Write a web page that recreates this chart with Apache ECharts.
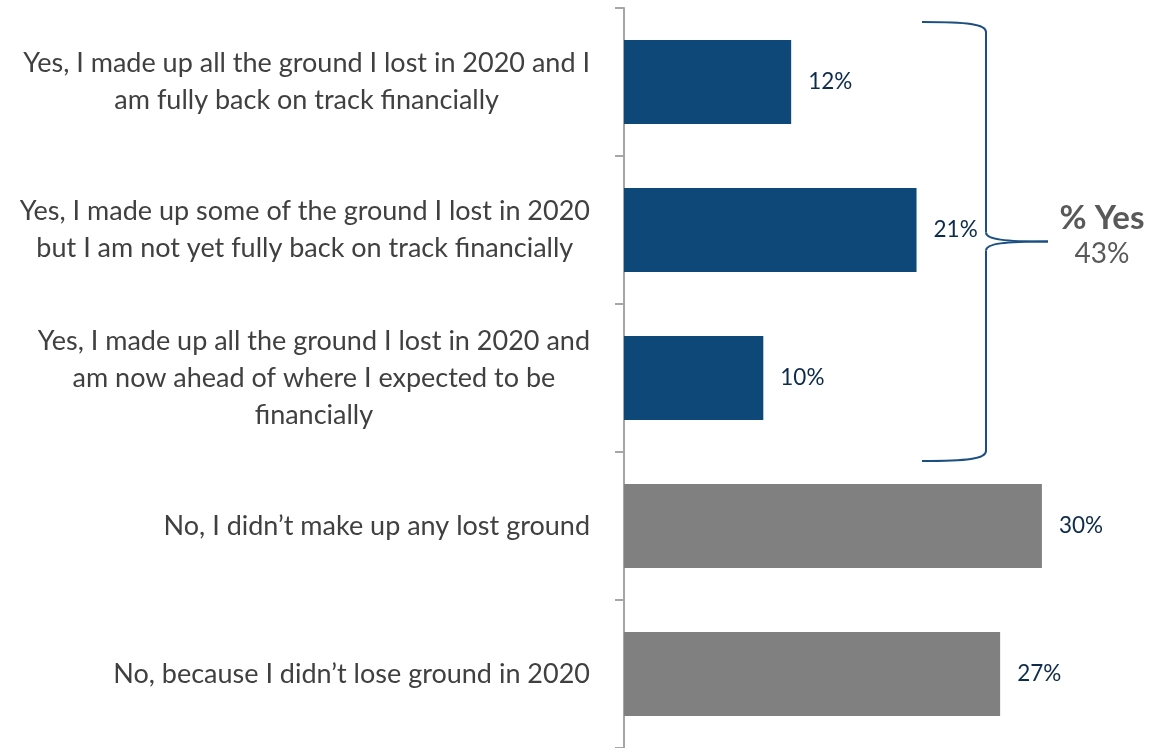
<!DOCTYPE html>
<html>
<head>
<meta charset="utf-8">
<script src="https://cdn.jsdelivr.net/npm/echarts@6/dist/echarts.min.js"></script>
<style>
  html, body { margin: 0; padding: 0; background: #ffffff; }
  #chart { width: 1149px; height: 748px; }
</style>
</head>
<body>
<div id="chart"></div>
<script>
// Survey answers, top to bottom (lines as printed next to each bar)
const categories = [
  ['Yes, I made up all the ground I lost in 2020 and I', 'am fully back on track financially'],
  ['Yes, I made up some of the ground I lost in 2020', 'but I am not yet fully back on track financially'],
  ['Yes, I made up all the ground I lost in 2020 and', 'am now ahead of where I expected to be', 'financially'],
  ['No, I didn\u2019t make up any lost ground'],
  ['No, because I didn\u2019t lose ground in 2020']
];
// Share of respondents, in percent
const values = [12, 21, 10, 30, 27];
// Which answers count as a "yes"
const isYes = [true, true, true, false, false];
// Bracket summary text
const yesTitle = '% Yes';
const yesTotal = '43%';

const BLUE = '#0E4878';
const GREY = '#808080';
const FONT = 'Lato, "Open Sans", sans-serif';

const chart = echarts.init(document.getElementById('chart'));

const labelNames = categories.map(lines => lines.join('\n'));

chart.setOption({
  animation: false,
  backgroundColor: '#ffffff',
  grid: { left: 624, right: 23.5, top: 8, bottom: 0, containLabel: false },
  xAxis: {
    type: 'value',
    min: 0,
    max: 36,
    show: false
  },
  yAxis: {
    type: 'category',
    inverse: true,
    data: labelNames,
    axisLine: { show: true, lineStyle: { color: '#A6A6A6', width: 2 } },
    axisTick: { show: true, length: 9, lineStyle: { color: '#A6A6A6', width: 2 } },
    axisLabel: {
      margin: 34,
      align: 'right',
      fontFamily: FONT,
      formatter: function (val) {
        return val.split('\n').map(l => '{c|' + l + '}').join('\n');
      },
      rich: {
        c: {
          align: 'center',
          fontFamily: FONT,
          fontSize: 27,
          lineHeight: 37,
          color: '#404040'
        }
      }
    },
    splitLine: { show: false }
  },
  series: [{
    type: 'bar',
    barWidth: 84,
    data: values.map((v, i) => ({
      value: v,
      itemStyle: { color: isYes[i] ? BLUE : GREY }
    })),
    label: {
      show: true,
      position: 'right',
      distance: 17,
      formatter: '{c}%',
      fontFamily: FONT,
      fontSize: 22.5,
      color: '#0D2B4A'
    }
  }]
});

// Curly bracket grouping the "yes" answers, placed from the category scale
function drawBracket() {
  const yesIdx = isYes.map((y, i) => (y ? i : -1)).filter(i => i >= 0);
  const first = yesIdx[0], last = yesIdx[yesIdx.length - 1];
  const yFirst = chart.convertToPixel({ yAxisIndex: 0 }, first);
  const yLast = chart.convertToPixel({ yAxisIndex: 0 }, last);
  const top = yFirst - 60;
  const bottom = yLast + 83;
  const mid = (top + bottom) / 2;
  const xL = 922, xV = 986, xTip = 1048;
  const stroke = { stroke: '#1B4F82', lineWidth: 2, fill: null };

  const curve = (x1, y1, cx1, cy1, cx2, cy2, x2, y2) => ({
    type: 'bezierCurve', silent: true,
    shape: { x1, y1, cpx1: cx1, cpy1: cy1, cpx2: cx2, cpy2: cy2, x2, y2 },
    style: stroke
  });
  const seg = (x1, y1, x2, y2) => ({
    type: 'line', silent: true,
    shape: { x1, y1, x2, y2 },
    style: stroke
  });

  chart.setOption({
    graphic: [
      curve(xL, top, xL + 45, top, xV, top + 2, xV, top + 10),
      seg(xV, top + 10, xV, mid - 9),
      curve(xV, mid - 9, xV, mid - 2, xV + 18, mid, xTip, mid),
      curve(xTip, mid, xV + 18, mid, xV, mid + 2, xV, mid + 9),
      seg(xV, mid + 9, xV, bottom - 10),
      curve(xV, bottom - 10, xV, bottom - 2, xL + 45, bottom, xL, bottom),
      {
        type: 'text',
        x: 1102, y: mid - 23,
        style: {
          text: yesTitle,
          fontFamily: FONT,
          fontSize: 33,
          fontWeight: 'bold',
          fill: '#595959',
          align: 'center',
          verticalAlign: 'middle'
        }
      },
      {
        type: 'text',
        x: 1102, y: mid + 12,
        style: {
          text: yesTotal,
          fontFamily: FONT,
          fontSize: 28,
          fill: '#595959',
          align: 'center',
          verticalAlign: 'middle'
        }
      }
    ]
  });
}
drawBracket();
</script>
</body>
</html>
